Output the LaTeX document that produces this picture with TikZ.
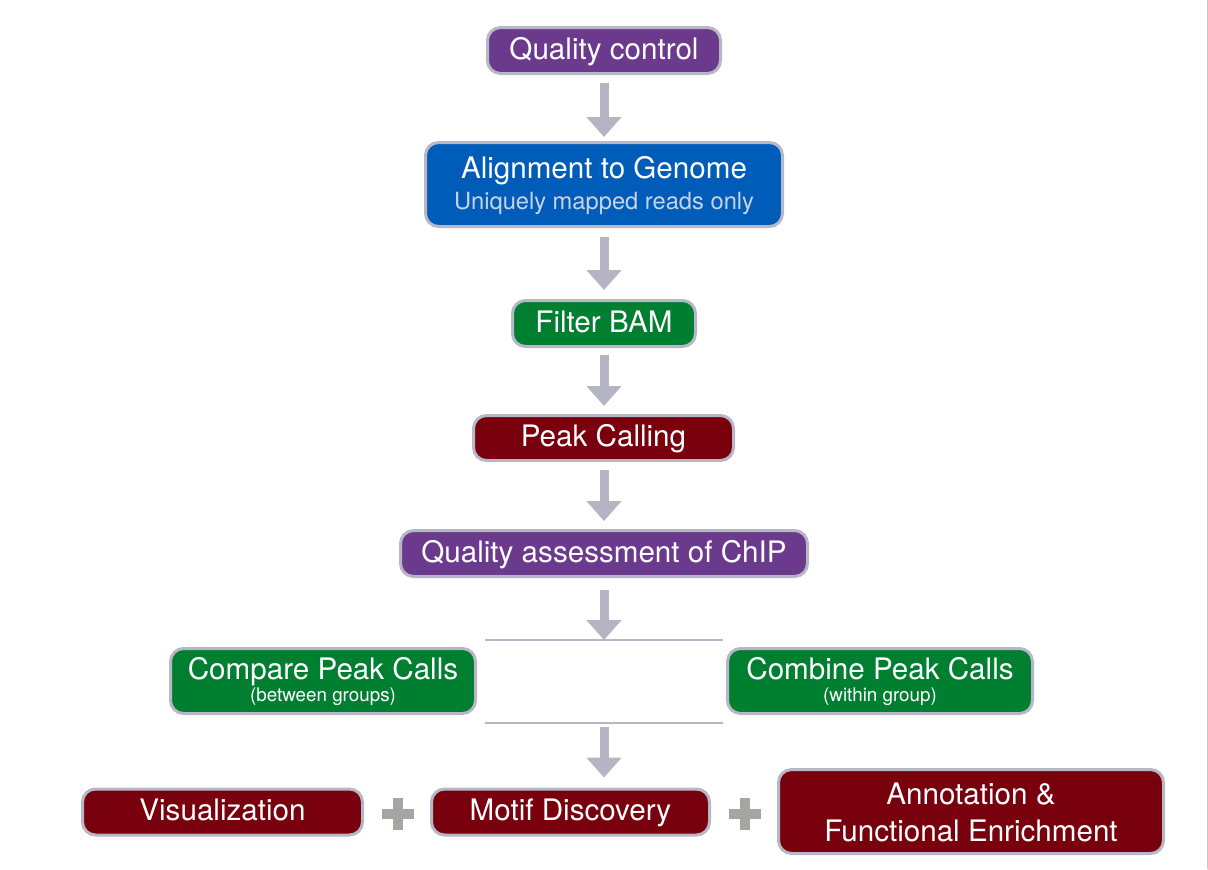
\documentclass[tikz,border=0pt]{standalone}
\usepackage{fontspec}
\setmainfont{TeX Gyre Heros}
\usetikzlibrary{arrows.meta,positioning}
\definecolor{qcpurple}{HTML}{6B3A8D}
\definecolor{alignblue}{HTML}{005CB9}
\definecolor{stepgreen}{HTML}{007F31}
\definecolor{peakred}{HTML}{79000D}
\definecolor{edgegray}{HTML}{B7B7C7}
\definecolor{arrowgray}{HTML}{B4B4C4}
\definecolor{plusgray}{HTML}{A3A6A3}
\definecolor{subblue}{HTML}{C8D3E6}
\begin{document}
\begin{tikzpicture}[x=0.5pt,y=-0.5pt,
    stage/.style={draw=edgegray, line width=1.5pt, rounded corners=6.5pt, text=white,
        inner sep=0pt, align=center, font=\fontsize{14.8}{18.3}\selectfont},
    oneline/.style={text height=10.8pt, text depth=2pt},
    flowarrow/.style={draw=arrowgray, line width=4.5pt, -{Triangle[length=10pt,width=17pt]}},
    splitline/.style={draw=edgegray, line width=1pt},
    plusmark/.style={draw=plusgray, line width=5pt}]
    \useasboundingbox (0,0) rectangle (1208,869);
    % main column
    \node[stage, oneline, fill=qcpurple, minimum width=116.5pt, minimum height=23pt] (qc) at (604,50.5) {Quality control};
    \node[stage, fill=alignblue, minimum width=178.5pt, minimum height=42pt] (align) at (604,184.5)
        {\rule{0pt}{12pt}Alignment to Genome\\[-2.8pt]{\fontsize{11.85}{14}\selectfont\color{subblue}Uniquely mapped reads only}};
    \node[stage, oneline, fill=stepgreen, minimum width=91.5pt, minimum height=23pt] (filter) at (604,323.5) {Filter BAM};
    \node[stage, oneline, fill=peakred, minimum width=130pt, minimum height=22.5pt] (peak) at (603.5,438) {Peak Calling};
    \node[stage, oneline, fill=qcpurple, minimum width=203.5pt, minimum height=23pt] (qa) at (604,553.5) {Quality assessment of ChIP};
    % split into two
    \node[stage, fill=stepgreen, minimum width=152.5pt, minimum height=32.5pt] (compare) at (323,681)
        {\rule{0pt}{12pt}Compare Peak Calls\\[-7.3pt]{\fontsize{9.4}{11}\selectfont(between groups)}};
    \node[stage, fill=stepgreen, minimum width=152.5pt, minimum height=32.5pt] (combine) at (880,681)
        {\rule{0pt}{12pt}Combine Peak Calls\\[-7.3pt]{\fontsize{9.4}{11}\selectfont(within group)}};
    % downstream
    \node[stage, oneline, fill=peakred, minimum width=140pt, minimum height=23pt] (vis) at (222.5,812) {Visualization};
    \node[stage, oneline, fill=peakred, minimum width=139pt, minimum height=23pt] (motif) at (570.5,812) {Motif Discovery};
    \node[stage, fill=peakred, minimum width=192.5pt, minimum height=42pt] (annot) at (971,811.5)
        {\rule{0pt}{12pt}Annotation \&\\Functional Enrichment};
    \coordinate (topL) at (485,640);
    \coordinate (topR) at (723,640);
    \coordinate (topmid) at (604,640);
    \coordinate (botL) at (485,723);
    \coordinate (botR) at (723,723);
    \coordinate (botmid) at (604,723);
    \draw[splitline] (topL) -- (topR);
    \draw[splitline] (botL) -- (botR);
    % arrows
    \draw[flowarrow, shorten <=4pt, shorten >=2pt] (qc) -- (align);
    \draw[flowarrow, shorten <=4.5pt, shorten >=4.5pt] (align) -- (filter);
    \draw[flowarrow, shorten <=3.5pt, shorten >=4pt] (filter) -- (peak.north -| filter.south);
    \draw[flowarrow, shorten <=4pt, shorten >=4pt] (peak.south -| qa.north) -- (qa);
    \draw[flowarrow, shorten <=6pt] (qa) -- (topmid);
    \draw[flowarrow, shorten <=2pt, shorten >=5pt] (botmid) -- (botmid |- motif.north);
    % plus signs
    \draw[plusmark] (381.5,814) -- (413.5,814) (397.5,798) -- (397.5,830);
    \draw[plusmark] (729,814) -- (761,814) (745,798) -- (745,830);
    \draw[draw=black!22, line width=0.5pt] (1207,0) -- (1207,869);
\end{tikzpicture}
\end{document}
